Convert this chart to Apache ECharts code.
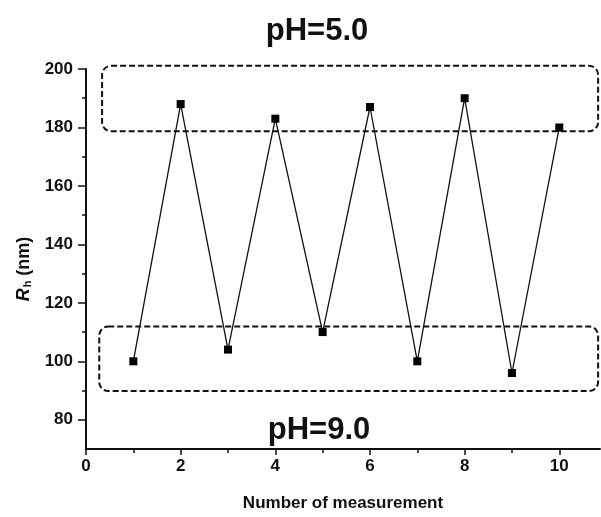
<!DOCTYPE html>
<html>
<head>
<meta charset="utf-8">
<script src="https://cdn.jsdelivr.net/npm/echarts@6/dist/echarts.min.js"></script>
<style>
  html, body { margin: 0; padding: 0; background: #fff; }
  #chart { width: 601px; height: 517px; }
</style>
</head>
<body>
<div id="chart"></div>
<script>
// Hydrodynamic radius over repeated pH switching
const measurements = [1, 2, 3, 4, 5, 6, 7, 8, 9, 10];
const radiusNm = [100, 188, 104, 183, 110, 187, 100, 190, 96, 180];

const xMajorTicks = [0, 2, 4, 6, 8, 10];
const xMinorTicks = [1, 3, 5, 7, 9];
const yMajorTicks = [80, 100, 120, 140, 160, 180, 200];
const yMinorTicks = [90, 110, 130, 150, 170, 190];

// pH regimes, in data units: [xFrom, xTo, yFrom, yTo]
const regionAcid = [0.34, 10.82, 178.7, 201.1];
const regionBase = [0.28, 10.82, 89.8, 111.9];
const regionLabels = ['pH=5.0', 'pH=9.0'];

const FONT = '"Liberation Sans", Arial, sans-serif';
const INK = '#111';

const chart = echarts.init(document.getElementById('chart'), null, { renderer: 'canvas' });

const hiddenAxisParts = {
  axisLine: { show: false },
  axisLabel: { show: false },
  splitLine: { show: false }
};

chart.setOption({
  animation: false,
  backgroundColor: '#fff',
  grid: { left: 86, right: 1, top: 69, bottom: 65 },
  xAxis: [
    {
      type: 'value',
      min: 0,
      max: 10.86,
      axisLine: { lineStyle: { color: INK, width: 2 } },
      axisTick: { customValues: xMajorTicks, length: 6, lineStyle: { color: INK, width: 1.5 } },
      axisLabel: {
        customValues: xMajorTicks,
        color: INK, fontFamily: FONT, fontWeight: 'bold', fontSize: 17, margin: 9
      },
      splitLine: { show: false },
      name: 'Number of measurement',
      nameLocation: 'middle',
      nameGap: 46,
      nameTextStyle: { color: INK, fontFamily: FONT, fontWeight: 'bold', fontSize: 17 }
    },
    Object.assign({
      type: 'value', min: 0, max: 10.86, position: 'bottom',
      axisTick: { customValues: xMinorTicks, length: 4, lineStyle: { color: INK, width: 1.5 } }
    }, hiddenAxisParts)
  ],
  yAxis: [
    {
      type: 'value',
      min: 70,
      max: 200,
      axisLine: { show: true, lineStyle: { color: INK, width: 2 } },
      axisTick: { customValues: yMajorTicks, length: 8, lineStyle: { color: INK, width: 1.5 } },
      axisLabel: {
        customValues: yMajorTicks,
        color: INK, fontFamily: FONT, fontWeight: 'bold', fontSize: 17, margin: 13
      },
      splitLine: { show: false },
      name: '{i|R}{s|h} (nm)',
      nameLocation: 'middle',
      nameGap: 52,
      nameTextStyle: {
        color: INK, fontFamily: FONT, fontWeight: 'bold', fontSize: 18,
        padding: [0, 20, 0, 0],
        rich: {
          i: { fontFamily: FONT, fontStyle: 'italic', fontWeight: 'bold', fontSize: 18, color: INK },
          s: { fontFamily: FONT, fontWeight: 'bold', fontSize: 11, color: INK, verticalAlign: 'bottom', padding: [9, 0, 0, 1] }
        }
      }
    },
    Object.assign({
      type: 'value', min: 70, max: 200, position: 'left',
      axisTick: { customValues: yMinorTicks, length: 4, lineStyle: { color: INK, width: 1.5 } }
    }, hiddenAxisParts)
  ],
  series: [
    {
      type: 'line',
      data: measurements.map((m, i) => [m, radiusNm[i]]),
      symbol: 'rect',
      symbolSize: 8,
      lineStyle: { color: INK, width: 1.3 },
      itemStyle: { color: '#000' },
      z: 3
    }
  ]
});

// Rounded dashed frames around each pH regime, placed through the axes
function regionRect(r) {
  const p0 = chart.convertToPixel({ xAxisIndex: 0, yAxisIndex: 0 }, [r[0], r[3]]);
  const p1 = chart.convertToPixel({ xAxisIndex: 0, yAxisIndex: 0 }, [r[1], r[2]]);
  return {
    type: 'rect',
    shape: { x: p0[0], y: p0[1], width: p1[0] - p0[0], height: p1[1] - p0[1], r: 9 },
    style: { fill: 'none', stroke: INK, lineWidth: 2, lineDash: [6, 3] },
    z: 1
  };
}

function regionText(text, x, y) {
  return {
    type: 'text',
    x: x, y: y,
    style: {
      text: text, fill: INK, align: 'center', verticalAlign: 'middle',
      font: 'bold 31px ' + FONT
    },
    z: 2
  };
}

chart.setOption({
  graphic: [
    regionRect(regionAcid),
    regionRect(regionBase),
    regionText(regionLabels[0], 317, 31),
    regionText(regionLabels[1], 319, 430)
  ]
});
</script>
</body>
</html>
